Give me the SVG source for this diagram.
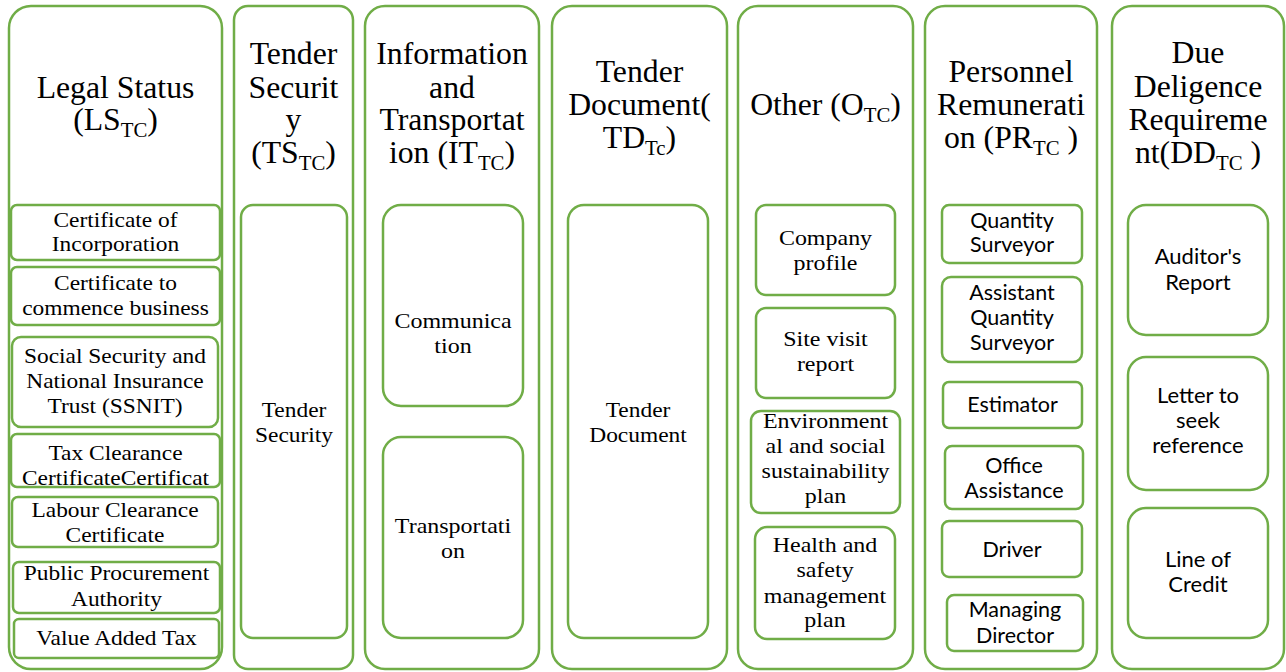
<svg xmlns="http://www.w3.org/2000/svg" width="1286" height="672" viewBox="0 0 1286 672">
<style>
.o{fill:#fff;stroke:#70AD47;stroke-width:2.5}
.i{fill:#fff;stroke:#70AD47;stroke-width:2.5}
.ti{font-family:"Liberation Serif","Times New Roman",serif;font-size:30.5px;text-anchor:middle;fill:#000}
.s{font-family:"Liberation Serif","Times New Roman",serif;font-size:21.5px;text-anchor:middle;fill:#000}
.s2{font-family:"Liberation Serif","Times New Roman",serif;font-size:22px;text-anchor:middle;fill:#000}
.c{font-family:Lato,"Open Sans",sans-serif;font-size:21.5px;text-anchor:middle;fill:#000}
.c2{font-family:Lato,"Open Sans",sans-serif;font-size:22px;text-anchor:middle;fill:#000}
.sb{font-size:20px}
</style>
<rect width="1286" height="672" fill="#fff"/>

<g id="col-legal-status">
<rect class="o" x="9" y="6" width="213" height="663" rx="22"/>
<text class="ti" transform="translate(115.5 0) scale(1.04 1)"><tspan x="0" y="98">Legal Status</tspan><tspan x="0" y="130">(LS<tspan class="sb" dy="7">TC</tspan><tspan dy="-7">)</tspan></tspan></text>
<g id="ls-1"><rect class="i" x="11" y="205" width="209" height="55" rx="6"/>
<text class="s" transform="translate(115.5 0) scale(1.09 1)"><tspan x="0" y="227">Certificate of</tspan><tspan x="0" y="251">Incorporation</tspan></text></g>
<g id="ls-2"><rect class="i" x="11" y="267" width="209" height="58" rx="6"/>
<text class="s" transform="translate(115.5 0) scale(1.09 1)"><tspan x="0" y="290">Certificate to</tspan><tspan x="0" y="315">commence business</tspan></text></g>
<g id="ls-3"><rect class="i" x="12" y="337" width="206" height="90" rx="9"/>
<text class="s" transform="translate(115 0) scale(1.09 1)"><tspan x="0" y="363">Social Security and</tspan><tspan x="0" y="388">National Insurance</tspan><tspan x="0" y="413">Trust (SSNIT)</tspan></text></g>
<g id="ls-4"><rect class="i" x="11" y="434" width="209" height="53" rx="6"/>
<text class="s" transform="translate(115.5 0) scale(1.09 1)"><tspan x="0" y="460">Tax Clearance</tspan><tspan x="0" y="485">CertificateCertificat</tspan></text></g>
<g id="ls-5"><rect class="i" x="12" y="497" width="206" height="50" rx="6"/>
<text class="s" transform="translate(115 0) scale(1.09 1)"><tspan x="0" y="517">Labour Clearance</tspan><tspan x="0" y="542">Certificate</tspan></text></g>
<g id="ls-6"><rect class="i" x="13" y="562" width="207" height="51" rx="6"/>
<text class="s" transform="translate(116.5 0) scale(1.09 1)"><tspan x="0" y="580">Public Procurement</tspan><tspan x="0" y="606">Authority</tspan></text></g>
<g id="ls-7"><rect class="i" x="14" y="619" width="205" height="39" rx="5"/>
<text class="s" transform="translate(116.5 0) scale(1.09 1)"><tspan x="0" y="645">Value Added Tax</tspan></text></g>
</g>

<g id="col-tender-security">
<rect class="o" x="234" y="6" width="119" height="663" rx="14"/>
<text class="ti" transform="translate(293.5 0) scale(1.04 1)"><tspan x="0" y="64">Tender</tspan><tspan x="0" y="98">Securit</tspan><tspan x="0" y="130">y</tspan><tspan x="0" y="163">(TS<tspan class="sb" dy="7">TC</tspan><tspan dy="-7">)</tspan></tspan></text>
<g id="ts-1"><rect class="i" x="241" y="205" width="106" height="433" rx="12"/>
<text class="s" transform="translate(294 0) scale(1.09 1)"><tspan x="0" y="417">Tender</tspan><tspan x="0" y="442">Security</tspan></text></g>
</g>

<g id="col-info-transport">
<rect class="o" x="365" y="6" width="174" height="663" rx="20"/>
<text class="ti" transform="translate(452 0) scale(1.04 1)"><tspan x="0" y="64">Information</tspan><tspan x="0" y="98">and</tspan><tspan x="0" y="130">Transportat</tspan><tspan x="0" y="163">ion (IT<tspan class="sb" dy="7">TC</tspan><tspan dy="-7">)</tspan></tspan></text>
<g id="it-1"><rect class="i" x="383" y="205" width="140" height="201" rx="18"/>
<text class="s2" transform="translate(453 0) scale(1.09 1)"><tspan x="0" y="328">Communica</tspan><tspan x="0" y="353">tion</tspan></text></g>
<g id="it-2"><rect class="i" x="383" y="437" width="140" height="201" rx="18"/>
<text class="s2" transform="translate(453 0) scale(1.09 1)"><tspan x="0" y="533">Transportati</tspan><tspan x="0" y="558">on</tspan></text></g>
</g>

<g id="col-tender-document">
<rect class="o" x="552" y="6" width="175" height="663" rx="20"/>
<text class="ti" transform="translate(639.5 0) scale(1.04 1)"><tspan x="0" y="82">Tender</tspan><tspan x="0" y="115">Document(</tspan><tspan x="0" y="148">TD<tspan class="sb" dy="7">Tc</tspan><tspan dy="-7">)</tspan></tspan></text>
<g id="td-1"><rect class="i" x="568" y="205" width="140" height="433" rx="16"/>
<text class="s" transform="translate(638 0) scale(1.09 1)"><tspan x="0" y="417">Tender</tspan><tspan x="0" y="442">Document</tspan></text></g>
</g>

<g id="col-other">
<rect class="o" x="738" y="6" width="175" height="663" rx="20"/>
<text class="ti" transform="translate(825.5 0) scale(1.04 1)"><tspan x="0" y="115">Other (O<tspan class="sb" dy="7">TC</tspan><tspan dy="-7">)</tspan></tspan></text>
<g id="o-1"><rect class="i" x="756" y="205" width="139" height="90" rx="10"/>
<text class="s2" transform="translate(825.5 0) scale(1.09 1)"><tspan x="0" y="245">Company</tspan><tspan x="0" y="270">profile</tspan></text></g>
<g id="o-2"><rect class="i" x="756" y="308" width="139" height="90" rx="10"/>
<text class="s2" transform="translate(825.5 0) scale(1.09 1)"><tspan x="0" y="346">Site visit</tspan><tspan x="0" y="371">report</tspan></text></g>
<g id="o-3"><rect class="i" x="751" y="411" width="149" height="102" rx="10"/>
<text class="s2" transform="translate(825.5 0) scale(1.09 1)"><tspan x="0" y="428">Environment</tspan><tspan x="0" y="453">al and social</tspan><tspan x="0" y="478">sustainability</tspan><tspan x="0" y="503">plan</tspan></text></g>
<g id="o-4"><rect class="i" x="755" y="527" width="140" height="112" rx="12"/>
<text class="s2" transform="translate(825 0) scale(1.09 1)"><tspan x="0" y="552">Health and</tspan><tspan x="0" y="577">safety</tspan><tspan x="0" y="603">management</tspan><tspan x="0" y="627">plan</tspan></text></g>
</g>

<g id="col-personnel">
<rect class="o" x="925" y="6" width="172" height="663" rx="20"/>
<text class="ti" transform="translate(1011 0) scale(1.04 1)"><tspan x="0" y="82">Personnel</tspan><tspan x="0" y="115">Remunerati</tspan><tspan x="0" y="148">on (PR<tspan class="sb" dy="7">TC</tspan><tspan dy="-7"> )</tspan></tspan></text>
<g id="pr-1"><rect class="i" x="942" y="205" width="140" height="58" rx="7"/>
<text class="c" x="1012" y="228">Quantity<tspan x="1012" y="252">Surveyor</tspan></text></g>
<g id="pr-2"><rect class="i" x="942" y="277" width="140" height="85" rx="9"/>
<text class="c" x="1012" y="300">Assistant<tspan x="1012" y="325">Quantity</tspan><tspan x="1012" y="350">Surveyor</tspan></text></g>
<g id="pr-3"><rect class="i" x="943" y="382" width="139" height="46" rx="6"/>
<text class="c" x="1012.5" y="412">Estimator</text></g>
<g id="pr-4"><rect class="i" x="945" y="446" width="138" height="63" rx="7"/>
<text class="c" x="1014" y="473">Office<tspan x="1014" y="498">Assistance</tspan></text></g>
<g id="pr-5"><rect class="i" x="942" y="521" width="140" height="56" rx="7"/>
<text class="c" x="1012" y="557">Driver</text></g>
<g id="pr-6"><rect class="i" x="947" y="595" width="136" height="56" rx="7"/>
<text class="c" x="1015" y="617">Managing<tspan x="1015" y="643">Director</tspan></text></g>
</g>

<g id="col-due-diligence">
<rect class="o" x="1112" y="6" width="172" height="663" rx="20"/>
<text class="ti" transform="translate(1198 0) scale(1.04 1)"><tspan x="0" y="63">Due</tspan><tspan x="0" y="97">Deligence</tspan><tspan x="0" y="130">Requireme</tspan><tspan x="0" y="163">nt(DD<tspan class="sb" dy="7">TC</tspan><tspan dy="-7"> )</tspan></tspan></text>
<g id="dd-1"><rect class="i" x="1128" y="205" width="140" height="130" rx="18"/>
<text class="c2" x="1198" y="264">Auditor's<tspan x="1198" y="290">Report</tspan></text></g>
<g id="dd-2"><rect class="i" x="1128" y="357" width="140" height="133" rx="18"/>
<text class="c2" x="1198" y="403">Letter to<tspan x="1198" y="428">seek</tspan><tspan x="1198" y="453">reference</tspan></text></g>
<g id="dd-3"><rect class="i" x="1128" y="508" width="140" height="130" rx="18"/>
<text class="c2" x="1198" y="567">Line of<tspan x="1198" y="592">Credit</tspan></text></g>
</g>

<g id="connectors"></g>
</svg>
